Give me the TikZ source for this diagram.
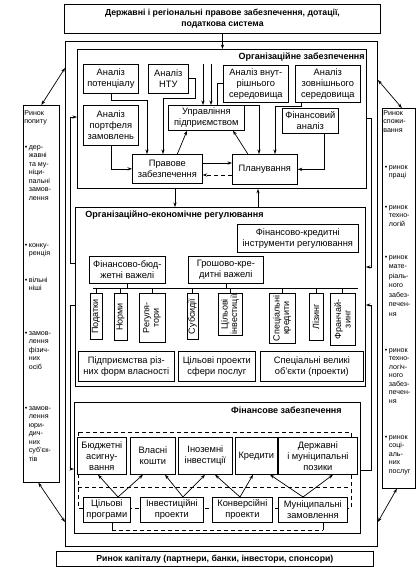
\documentclass[tikz,border=0pt]{standalone}
\usepackage{fontspec}
\setmainfont{Liberation Sans}
\usetikzlibrary{arrows.meta}
\newcommand\fB{\fontsize{9.3}{11}\selectfont}
\newcommand\fS{\fontsize{7.1}{8.5}\selectfont}
\newcommand\fT{\fontsize{9}{10}\selectfont\bfseries}
\newcommand\fTop{\fontsize{8.7}{11}\selectfont\bfseries}
\newcommand\fR{\fontsize{9}{9.5}\selectfont}
\begin{document}
\begin{tikzpicture}[x=1pt,y=-1pt, >={Stealth[length=4.5pt,width=3.2pt]}, line width=0.7pt,
 box/.style={draw, fill=white, inner sep=0.5pt, align=center, font=\fB, anchor=north west},
 frame/.style={draw, line width=0.9pt, anchor=north west, inner sep=0pt},
 vbox/.style={draw, fill=white, rotate=90, anchor=east, inner sep=0.3pt, align=center, font=\fR},
 side/.style={font=\fS, anchor=north west, inner sep=0pt},
 ttl/.style={font=\fT, inner sep=0pt},
 dsh/.style={dash pattern=on 4pt off 3pt}]
\useasboundingbox (0,0) rectangle (417,567);
% top box
\node[box, font=\fTop, minimum width=316pt, minimum height=29pt, line width=0.9pt] (top) at (64,4) {Державні і регіональні правове забезпечення, дотації,\\податкова система};
% outer frame
\node[frame, minimum width=312pt, minimum height=505pt] (outer) at (65,41) {};
% ===== organisational frame
\node[frame, minimum width=289pt, minimum height=139pt] (org) at (77,49) {};
\node[ttl, anchor=east] (orgt) at (365,57) {Організаційне забезпечення};
\node[box, minimum width=55pt, minimum height=29pt] (pot) at (83,64) {Аналіз\\потенціалу};
\node[box, minimum width=40pt, minimum height=29pt] (ntu) at (148,64) {Аналіз\\НТУ};
\node[box, minimum width=65pt, minimum height=37pt] (vnut) at (223,65) {Аналіз внут-\\рішнього\\середовища};
\node[box, minimum width=65pt, minimum height=37pt] (zovn) at (295,65) {Аналіз\\зовнішнього\\середовища};
\node[box, minimum width=55pt, minimum height=40pt] (port) at (83,105) {Аналіз\\портфеля\\замовлень};
\node[box, minimum width=76pt, minimum height=25pt] (upr) at (168,105) {Управління\\підприємством};
\node[box, minimum width=56pt, minimum height=25pt] (fin) at (282,108) {Фінансовий\\аналіз};
\node[box, minimum width=70pt, minimum height=29pt] (prav) at (132,154) {Правове\\забезпечення};
\node[box, minimum width=65pt, minimum height=30pt] (plan) at (232,154) {Планування};
\coordinate (f1) at (203,64);
\coordinate (f2) at (211,64);
\draw[->] (f1) -- (f1 |- upr.north);
\draw[->] (f2) -- (f2 |- upr.north);
\draw[->] (pot.south) |- (147,100) -- (147,0 |- prav.north);
\draw[->] (ntu.east) -- (195,0 |- ntu.east) |- (163,98) -- (163,0 |- prav.north);
\draw[->] (port.south) |- (prav.west);
\draw[->] ([xshift=10pt]prav.north) -- (187,0 |- upr.south);
\draw[->] ([xshift=-17pt]plan.north) -- (233,0 |- upr.south);
\draw[->] (prav.east |- 0,163) -- (plan.west |- 0,163);
\draw[->, dsh] (plan.west |- 0,175) -- (prav.east |- 0,175);
\draw[->] (vnut.west |- 0,83) -- (217,83) |- (259,105) -- (259,0 |- plan.north);
\draw[->] ([xshift=6pt]zovn.south west) |- (275,106) -- (275,0 |- plan.north);
\draw[->] ([xshift=14pt]fin.south) |- (plan.east);
\draw[->] (top.south) -- (top.south |- org.north);
% ===== organisational-economic frame
\node[frame, minimum width=290pt, minimum height=179pt] (oe) at (75,207) {};
\node[ttl, anchor=west] (oet) at (85,215) {Організаційно-економічне регулювання};
\draw[->] (175,0 |- org.south) -- (175,0 |- oe.north);
\draw[->] (258,0 |- oe.north) -- (258,0 |- org.south);
\node[box, minimum width=121pt, minimum height=28pt] (fk) at (237,224) {Фінансово-кредитні\\інструменти регулювання};
\node[box, minimum width=76pt, minimum height=27pt] (fb) at (89,256) {Фінансово-бюд-\\жетні важелі};
\node[box, minimum width=75pt, minimum height=27pt] (gk) at (188,256) {Грошово-кре-\\дитні важелі};
\coordinate (busL) at (93,288);
\coordinate (busR) at (358,288);
\draw (busL) -- (busR);
\draw (fb.south) -- (fb.south |- busL);
\draw (gk.south) -- (gk.south |- busL);
\node[vbox, minimum width=46pt, minimum height=12pt] (pod) at (96,293) {Податки};
\node[vbox, minimum width=47pt, minimum height=13pt] (norm) at (120.5,293) {Норми};
\node[vbox, minimum width=49pt, minimum height=26pt] (reg) at (152,293) {Регуля-\\тори};
\node[vbox, minimum width=46pt, minimum height=11pt] (sub) at (192.5,293) {Субсидії};
\node[vbox, minimum width=42pt, minimum height=24pt] (cinv) at (230,293) {Цільові\\інвестиції};
\node[vbox, minimum width=50pt, minimum height=26pt] (spk) at (282,293) {Спеціальні\\кредити};
\node[vbox, minimum width=47pt, minimum height=14pt] (liz) at (316,293) {Лізинг};
\node[vbox, minimum width=52pt, minimum height=25pt] (fran) at (342.5,293) {Франчай-\\зинг};
\foreach \n in {pod,norm,reg,sub,cinv,spk,liz,fran}{\draw (\n.east) -- (\n.east |- busL);}
\node[box, minimum width=96pt, minimum height=30pt] (pidp) at (78,351) {Підприємства різ-\\них форм власності};
\node[box, minimum width=77pt, minimum height=30pt] (cpsp) at (178,351) {Цільові проекти\\сфери послуг};
\node[box, minimum width=103pt, minimum height=30pt] (svo) at (260,351) {Спеціальні великі\\об’єкти (проекти)};
% ===== financial frame
\node[frame, minimum width=286pt, minimum height=131pt] (finf) at (74,402) {};
\node[ttl, anchor=east] (fint) at (342,410) {Фінансове забезпечення};
\draw[dsh] (78,432) rectangle (351,508);
\draw[dsh] (78,487) -- (351,487);
\node[box, minimum width=49pt, minimum height=37pt] (bud) at (77,437) {Бюджетні\\асигну-\\вання};
\node[box, minimum width=45pt, minimum height=37pt] (vl) at (130,437) {Власні\\кошти};
\node[box, minimum width=54pt, minimum height=37pt] (ino) at (178,437) {Іноземні\\інвестиції};
\node[box, minimum width=42pt, minimum height=37pt] (kr) at (235,437) {Кредити};
\node[box, minimum width=79pt, minimum height=37pt] (dz) at (278,437) {Державні\\і муніципальні\\позики};
\node[box, minimum width=47pt, minimum height=25pt] (cp) at (83,497) {Цільові\\програми};
\node[box, minimum width=63pt, minimum height=25pt] (ip) at (140,497) {Інвестиційні\\проекти};
\node[box, minimum width=60pt, minimum height=25pt] (kp) at (212,497) {Конверсійні\\проекти};
\node[box, minimum width=69pt, minimum height=25pt] (mz) at (278,497) {Муніципальні\\замовлення};
\draw[->] (118,0 |- cp.north) -- (98,0 |- bud.south);
\draw[->] (118,0 |- cp.north) -- (143,0 |- vl.south);
\draw[->] (183,0 |- ip.north) -- (165,0 |- vl.south);
\draw[->] (183,0 |- ip.north) -- (205,0 |- ino.south);
\draw[->] (240,0 |- kp.north) -- (215,0 |- ino.south);
\draw[->] (240,0 |- kp.north) -- (253,0 |- kr.south);
\draw[->] (303,0 |- mz.north) -- (270,0 |- kr.south);
\draw[->] (303,0 |- mz.north) -- (333,0 |- dz.south);
\draw (112,0 |- cp.south) -- (112,530);
\draw[dsh] (112,530) -- (323,530);
\draw (323,530) -- (323,0 |- mz.south);
% ===== side connectors between frames
\draw[->] (oe.west |- 0,263) -- (70,263) |- (org.west |- 0,117);
\draw[->] (org.east |- 0,118) -- (371,118) |- (oe.east |- 0,267);
\draw[->] (oe.west |- 0,305) -- (70,305) |- (finf.west |- 0,469);
\draw[->] (finf.east |- 0,470) -- (371,470) |- (oe.east |- 0,305);
% ===== bottom box
\node[box, font=\fTop, minimum width=317pt, minimum height=15pt] (kap) at (56,551) {Ринок капіталу (партнери, банки, інвестори, спонсори)};
% ===== left market box
\node[draw, anchor=north west, minimum width=36pt, minimum height=377pt, inner sep=0pt] (popyt) at (23,105) {};
\node[side] (l0) at (24,109) {\begin{tabular}{@{}l@{}}Ринок\\попиту\end{tabular}};
\node[side] (l1) at (24.5,143) {\begin{tabular}{@{}l@{\hspace{1.5pt}}l@{}}•&дер-\\&жавні\\&та му-\\&ніци-\\&пальні\\&замов-\\&лення\end{tabular}};
\node[side] (l2) at (24.5,241) {\begin{tabular}{@{}l@{\hspace{1.5pt}}l@{}}•&конку-\\&ренція\end{tabular}};
\node[side] (l3) at (24.5,276) {\begin{tabular}{@{}l@{\hspace{1.5pt}}l@{}}•&вільні\\&ніші\end{tabular}};
\node[side] (l4) at (24.5,329) {\begin{tabular}{@{}l@{\hspace{1.5pt}}l@{}}•&замов-\\&лення\\&фізич-\\&них\\&осіб\end{tabular}};
\node[side] (l5) at (24.5,404) {\begin{tabular}{@{}l@{\hspace{1.5pt}}l@{}}•&замов-\\&лення\\&юри-\\&дич-\\&них\\&суб’єк-\\&тів\end{tabular}};
% ===== right market box
\node[draw, anchor=north west, minimum width=33pt, minimum height=380pt, inner sep=0pt] (spoz) at (382,108) {};
\node[side] (r0) at (383,109) {\begin{tabular}{@{}l@{}}Ринок\\спожи-\\вання\end{tabular}};
\node[side] (r1) at (384.5,163) {\begin{tabular}{@{}l@{\hspace{1.5pt}}l@{}}•&ринок\\&праці\end{tabular}};
\node[side] (r2) at (384.5,203) {\begin{tabular}{@{}l@{\hspace{1.5pt}}l@{}}•&ринок\\&техно-\\&логій\end{tabular}};
\node[side] (r3) at (384.5,253) {\begin{tabular}{@{}l@{\hspace{1.5pt}}l@{}}•&ринок\\[1pt]&мате-\\[1pt]&ріаль-\\[1pt]&ного\\[1pt]&забез-\\[1pt]&печен-\\[1pt]&ня\end{tabular}};
\node[side] (r4) at (384.5,346) {\begin{tabular}{@{}l@{\hspace{1.5pt}}l@{}}•&ринок\\&техно-\\&логіч-\\&ного\\&забез-\\&печен-\\&ня\end{tabular}};
\node[side] (r5) at (384.5,433) {\begin{tabular}{@{}l@{\hspace{1.5pt}}l@{}}•&ринок\\&соці-\\&аль-\\&них\\&послуг\end{tabular}};
% ===== market arrows
\draw[<->] (popyt.north) -- (outer.west |- 0,68);
\draw[<->] ([xshift=-3pt]popyt.south) -- (outer.west |- 0,522);
\draw[<->] ([xshift=3pt]spoz.north) -- (outer.east |- 0,80);
\draw[<->] ([xshift=-2pt]spoz.south) -- (outer.east |- 0,522);
\end{tikzpicture}
\end{document}
